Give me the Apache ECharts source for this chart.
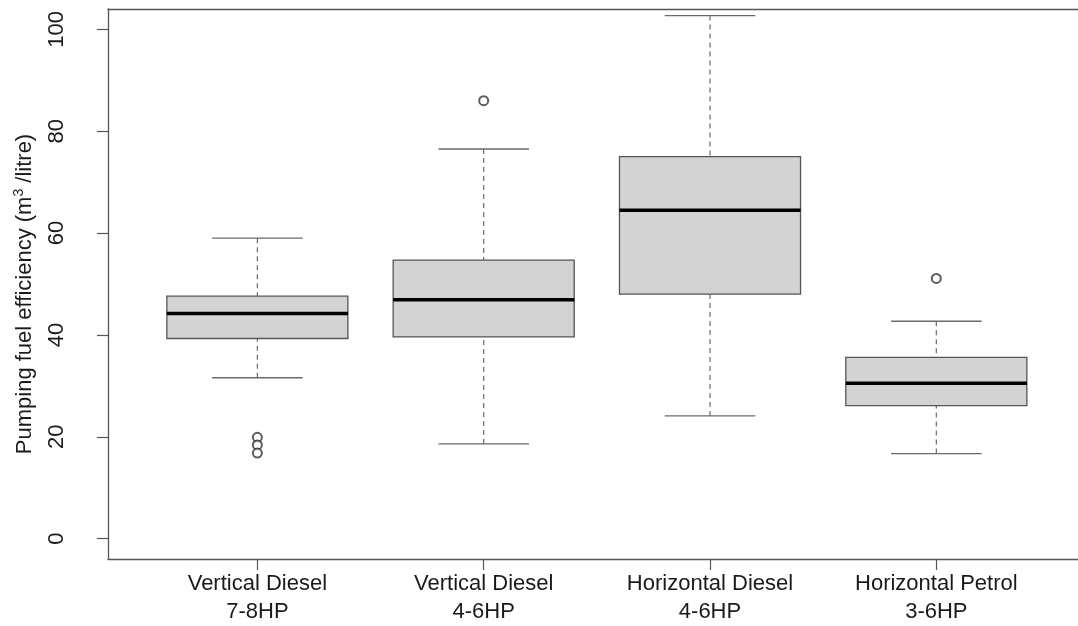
<!DOCTYPE html>
<html>
<head>
<meta charset="utf-8">
<script src="https://cdn.jsdelivr.net/npm/echarts@6/dist/echarts.min.js"></script>
<style>
html,body{margin:0;padding:0;background:#fff;}
#chart{width:1078px;height:626px;}
</style>
</head>
<body>
<div id="chart"></div>
<script>
// ---- data ----
const categories = ['Vertical Diesel\n7-8HP', 'Vertical Diesel\n4-6HP', 'Horizontal Diesel\n4-6HP', 'Horizontal Petrol\n3-6HP'];
const lowerWhisker = [31.6, 18.6, 24.1, 16.7];
const q1 = [39.3, 39.6, 48.0, 26.1];
const median = [44.2, 46.9, 64.5, 30.5];
const q3 = [47.6, 54.7, 75.0, 35.6];
const upperWhisker = [59.0, 76.5, 102.7, 42.7];
const outlierGroup = [0, 0, 0, 1, 3];
const outlierValue = [19.9, 18.4, 16.8, 86.0, 51.1];
const yTicks = [0, 20, 40, 60, 80, 100];
const xTicks = [1, 2, 3, 4];

const FONT = '"Liberation Sans", Arial, Helvetica, sans-serif';
const BOX_HALF = 0.4;
const STAPLE_HALF = 0.2;
const FRAME = {color: '#555', width: 1.3};

const boxData = categories.map((c, i) => [i + 1, lowerWhisker[i], q1[i], median[i], q3[i], upperWhisker[i]]);
const outlierData = outlierGroup.map((g, i) => [g + 1, outlierValue[i]]);

function renderBox(params, api) {
  const x = api.value(0);
  const lo = api.value(1), a = api.value(2), m = api.value(3), b = api.value(4), hi = api.value(5);
  const L = api.coord([x - BOX_HALF, a]);
  const R = api.coord([x + BOX_HALF, b]);
  const pLo = api.coord([x, lo]);
  const pA = api.coord([x, a]);
  const pB = api.coord([x, b]);
  const pHi = api.coord([x, hi]);
  const sL = api.coord([x - STAPLE_HALF, lo])[0];
  const sR = api.coord([x + STAPLE_HALF, lo])[0];
  const pM = api.coord([x, m]);
  const dash = {stroke: '#6a6a6a', lineWidth: 1.2, lineDash: [5, 4]};
  const solid = {stroke: '#6a6a6a', lineWidth: 1.4};
  return {
    type: 'group',
    children: [
      {type: 'line', shape: {x1: pHi[0], y1: pHi[1], x2: pB[0], y2: pB[1]}, style: dash},
      {type: 'line', shape: {x1: pLo[0], y1: pLo[1], x2: pA[0], y2: pA[1]}, style: dash},
      {type: 'line', shape: {x1: sL, y1: pHi[1], x2: sR, y2: pHi[1]}, style: solid},
      {type: 'line', shape: {x1: sL, y1: pLo[1], x2: sR, y2: pLo[1]}, style: solid},
      {type: 'rect', shape: {x: L[0], y: R[1], width: R[0] - L[0], height: L[1] - R[1]},
        style: {fill: '#d3d3d3', stroke: '#555', lineWidth: 1.3}},
      {type: 'line', shape: {x1: L[0], y1: pM[1], x2: R[0], y2: pM[1]}, style: {stroke: '#000', lineWidth: 3.5}}
    ]
  };
}

const chart = echarts.init(document.getElementById('chart'), null, {renderer: 'canvas'});
chart.setOption({
  animation: false,
  backgroundColor: '#fff',
  grid: {left: 108, top: 9, right: 0, bottom: 65, show: false},
  xAxis: [{
    type: 'value', min: 0.34, max: 4.626,
    axisLine: {show: true, onZero: false, lineStyle: FRAME},
    splitLine: {show: false},
    axisTick: {show: true, customValues: xTicks, length: 11, lineStyle: {color: '#555', width: 1.2}},
    axisLabel: {
      customValues: xTicks, margin: 11,
      formatter: v => categories[Math.round(v) - 1] || '',
      fontFamily: FONT, fontSize: 22, lineHeight: 28, color: '#1a1a1a'
    }
  }, {
    type: 'value', position: 'top', min: 0.34, max: 4.626,
    axisLine: {show: true, onZero: false, lineStyle: FRAME},
    splitLine: {show: false}, axisTick: {show: false}, axisLabel: {show: false}
  }],
  yAxis: {
    type: 'value', min: -4, max: 104,
    axisLine: {show: true, onZero: false, lineStyle: FRAME},
    splitLine: {show: false},
    axisTick: {show: true, customValues: yTicks, length: 11, lineStyle: {color: '#555', width: 1.2}},
    axisLabel: {customValues: yTicks, rotate: 90, margin: 40, fontFamily: FONT, fontSize: 22, color: '#1a1a1a'},
    name: 'Pumping fuel efficiency (m{sup|3} /litre)',
    nameLocation: 'middle', nameRotate: 90, nameGap: 70,
    nameTextStyle: {
      fontFamily: FONT, fontSize: 22, color: '#1a1a1a', padding: [0, 20, 0, 0],
      rich: {sup: {fontFamily: FONT, fontSize: 14, verticalAlign: 'top', padding: [0, 0, 12, 0], color: '#1a1a1a'}}
    }
  },
  series: [
    {type: 'custom', renderItem: renderBox, data: boxData, encode: {x: 0, y: [1, 2, 3, 4, 5]}, clip: false, z: 2},
    {type: 'scatter', data: outlierData, symbol: 'emptyCircle', symbolSize: 9,
      itemStyle: {color: '#333', borderColor: '#333', borderWidth: 1.3}, z: 3}
  ]
});
</script>
</body>
</html>
